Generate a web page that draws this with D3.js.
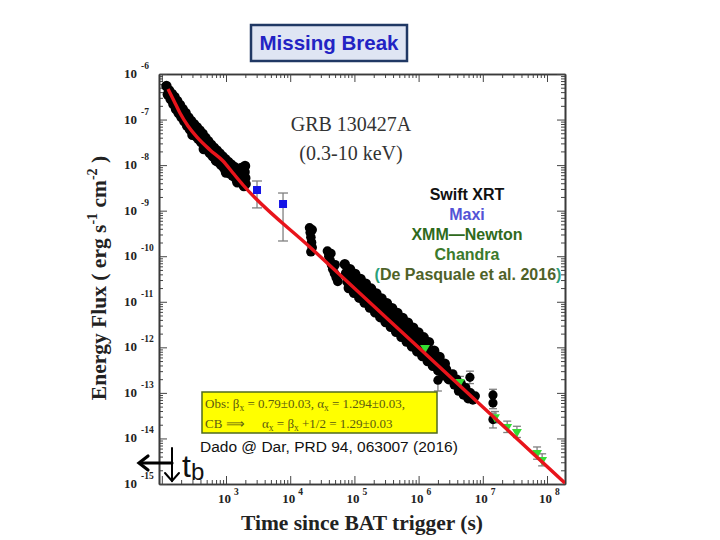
<!DOCTYPE html>
<html><head><meta charset="utf-8">
<script src="https://cdn.jsdelivr.net/npm/d3@7"></script>
<style>body{margin:0;background:#fff} svg{display:block}</style>
</head><body><svg id="c" width="720" height="540"></svg>
<script>
// ---------------- data ----------------
const xTickExps = [3, 4, 5, 6, 7, 8];
const yTickExps = [-6, -7, -8, -9, -10, -11, -12, -13, -14, -15];

// red model curve
const fitT = [125, 155, 192, 256, 353, 564, 898, 1285, 1842, 2.1e4, 1.0e6, 1.0e7, 1.9e8];
const fitF = [4.69e-7, 2.55e-7, 1.39e-7, 7.2e-8, 4.1e-8, 2.15e-8, 1.23e-8, 6.7e-9, 3.66e-9, 1.52e-10, 9.86e-13, 4.9e-14, 1.05e-15];

// Swift XRT (black): early decay
const xrtEarlyT = [118,124,130,137,144,151,158,166,174,183,192,202,212,223,235,247,260,273,287,302,318,335,352,370,390,410,432,455,478,503,530,558,587,618,650,684,720,758,798,840,884,930,980,1030,1085,1140,1200,1265,1330,1400,1475,1550,1630,1720,1810,1900,1950,2000,1980,2020, 300,450,700,1000,1500];
const xrtEarlyF = [5.45e-7,3.55e-7,4.36e-7,2.82e-7,3.64e-7,2.2e-7,3.13e-7,1.7e-7,2.55e-7,1.39e-7,2.09e-7,1.14e-7,1.7e-7,9.3e-8,1.39e-7,7.4e-8,1.11e-7,6.1e-8,9.3e-8,5.15e-8,7.9e-8,4.4e-8,6.8e-8,3.8e-8,5.8e-8,3.2e-8,4.9e-8,2.65e-8,4.0e-8,2.22e-8,3.35e-8,1.85e-8,2.82e-8,1.58e-8,2.42e-8,1.36e-8,2.1e-8,1.18e-8,1.81e-8,1.01e-8,1.55e-8,8.7e-9,1.35e-8,7.6e-9,1.18e-8,6.6e-9,1.03e-8,5.9e-9,9.2e-9,5.3e-9,8.3e-9,4.8e-9,7.5e-9,8.65e-9,4.05e-9,3.48e-9,7.06e-9,5.2e-9,9.6e-9,3.86e-9, 4.6e-8,2.26e-8,1.25e-8,6.9e-9,4.2e-9];

// Swift XRT: two clumps around 2e4 s and 5e4 s
const xrtMidT = [2.0e4,2.05e4,2.1e4,2.15e4,2.2e4,2.1e4,2.2e4, 3.8e4,4.0e4,4.2e4,4.4e4,4.6e4,4.9e4,5.2e4,5.5e4,4.3e4,5.0e4];
const xrtMidF = [4.2e-10,3.3e-10,2.6e-10,2.0e-10,1.55e-10,1.25e-10,3.8e-10, 1.3e-10,1.0e-10,8e-11,6.5e-11,5.2e-11,4.2e-11,3.4e-11,2.8e-11,1.15e-10,6.5e-11];

// Swift XRT: dense late band
const xrtBandT = [7.08e4,7.42e4,7.78e4,8.16e4,8.55e4,8.96e4,9.40e4,9.85e4,1.03e5,1.08e5,1.135e5,1.19e5,1.25e5,1.31e5,1.37e5,1.44e5,1.51e5,1.58e5,1.66e5,1.74e5,1.82e5,1.91e5,2.00e5,2.10e5,2.20e5,2.30e5,2.42e5,2.53e5,2.65e5,2.78e5,2.92e5,3.06e5,3.21e5,3.36e5,3.52e5,3.69e5,3.87e5,4.06e5,4.26e5,4.46e5,4.68e5,4.90e5,5.14e5,5.39e5,5.65e5,5.92e5,6.21e5,6.51e5,6.82e5,7.15e5,7.50e5,7.86e5,8.24e5,8.64e5,9.06e5,9.50e5,9.95e5,1.043e6,1.094e6,1.147e6,1.20e6,1.26e6,1.32e6,1.385e6,1.45e6,1.52e6,1.60e6,1.67e6,1.75e6,1.84e6,1.93e6,2.02e6,2.12e6,2.22e6,2.33e6,2.44e6,2.56e6,2.68e6,2.81e6,2.95e6];
const xrtBandF = [6.67e-11,4.25e-11,2.76e-11,2.01e-11,5.22e-11,3.32e-11,2.16e-11,1.57e-11,4.08e-11,2.59e-11,1.69e-11,1.23e-11,3.19e-11,2.03e-11,1.32e-11,9.6e-12,2.49e-11,1.585e-11,1.03e-11,7.5e-12,1.95e-11,1.24e-11,8.05e-12,5.87e-12,1.52e-11,9.7e-12,6.3e-12,4.59e-12,1.19e-11,7.57e-12,4.92e-12,3.59e-12,9.3e-12,5.92e-12,3.85e-12,2.81e-12,7.27e-12,4.62e-12,3.01e-12,2.19e-12,5.68e-12,3.61e-12,2.35e-12,1.71e-12,4.44e-12,2.82e-12,1.84e-12,1.34e-12,3.47e-12,2.21e-12,1.44e-12,1.05e-12,2.71e-12,1.73e-12,1.12e-12,8.18e-13,2.12e-12,1.35e-12,8.77e-13,6.4e-13,1.66e-12,1.05e-12,6.85e-13,5.0e-13,1.30e-12,8.24e-13,5.36e-13,3.91e-13,8.42e-13,5.87e-13,4.19e-13,3.13e-13,6.14e-13,4.39e-13,3.27e-13,2.44e-13,4.38e-13,3.27e-13,2.56e-13,2.0e-13];

// Swift XRT: end cluster
const xrtEndT = [3.4e6,3.6e6,3.9e6,4.2e6,4.6e6,5.0e6,5.4e6,5.9e6,6.4e6,7.0e6,7.6e6];
const xrtEndF = [2.6e-13,1.5e-13,2.0e-13,1.1e-13,1.6e-13,9e-14,1.3e-13,7.5e-14,1.0e-13,7e-14,8.5e-14];

// isolated Swift XRT points with error bars
const isoT  = [2.0e6, 6.3e6, 1.44e7, 1.44e7, 1.44e7];
const isoF  = [1.9e-13, 2.2e-13, 9.0e-14, 6.0e-14, 2.6e-14];
const isoLo = [1.1e-13, 1.6e-13, 6.5e-14, 4.5e-14, 1.7e-14];
const isoHi = [2.7e-13, 3.0e-13, 1.2e-13, 8.0e-14, 3.6e-14];

// Maxi (blue squares)
const maxiT  = [3040, 7730];
const maxiF  = [2.84e-9, 1.4e-9];
const maxiLo = [1.15e-9, 2.16e-10];
const maxiHi = [4.48e-9, 2.44e-9];

// XMM-Newton / Chandra (green)
const greenT  = [1.26e6, 4.4e6, 1.55e7, 2.4e7, 3.4e7, 7.0e7, 8.4e7];
const greenF  = [9.7e-13, 1.74e-13, 2.95e-14, 1.8e-14, 1.4e-14, 4.8e-15, 3.4e-15];
const greenLo = [7.5e-13, 1.3e-13, 2.2e-14, 1.35e-14, 1.05e-14, 3.5e-15, 2.5e-15];
const greenHi = [1.25e-12, 2.3e-13, 3.9e-14, 2.4e-14, 1.85e-14, 6.5e-15, 4.6e-15];

const legendLines = ["Swift XRT", "Maxi", "XMM\u2014Newton", "Chandra"];
const legendColors = ["#111111", "#5353d6", "#2f6a1c", "#3b7a2c"];

// ---------------- drawing ----------------
const svg = d3.select("#c");
const serif = "'Liberation Serif','Times New Roman',serif";
const sans = "'Liberation Sans',Arial,sans-serif";
const L = 159, R = 565, T = 74, B = 484;
const x = d3.scaleLog().domain([90.4, 1.907e8]).range([L, R]);
const y = d3.scaleLog().domain([1e-15, 1e-6]).range([B, T]);

svg.append("rect").attr("width", 720).attr("height", 540).attr("fill", "#fff");
svg.append("defs").append("clipPath").attr("id", "pc")
  .append("rect").attr("x", L).attr("y", T).attr("width", R - L).attr("height", B - T);

// tick values
const xMaj = [2, ...xTickExps].map(e => Math.pow(10, e));
const xMin = [];
for (let e = 1; e <= 8; e++) for (let m = 2; m <= 9; m++) { const v = m * Math.pow(10, e); if (v > 90.4 && v < 1.907e8) xMin.push(v); }
const yMaj = yTickExps.map(e => Math.pow(10, e));
const yMin = [];
for (let e = -15; e < -6; e++) for (let m = 2; m <= 9; m++) yMin.push(m * Math.pow(10, e));

function styleAxis(g) {
  g.select(".domain").attr("stroke", "#3a3a3a").attr("stroke-width", 1.6);
  g.selectAll(".tick line").attr("stroke", "#444").attr("stroke-width", 1);
}
const axesDef = [
  [d3.axisBottom, x, `translate(0,${B})`, xMaj, xMin],
  [d3.axisTop, x, `translate(0,${T})`, xMaj, xMin],
  [d3.axisLeft, y, `translate(${L},0)`, yMaj, yMin],
  [d3.axisRight, y, `translate(${R},0)`, yMaj, yMin],
];
axesDef.forEach(([fn, sc, tr, maj, min]) => {
  svg.append("g").attr("transform", tr)
    .call(fn(sc).tickValues(min).tickSize(-4).tickSizeOuter(0).tickFormat(""))
    .call(styleAxis);
  svg.append("g").attr("transform", tr)
    .call(fn(sc).tickValues(maj).tickSize(-8).tickSizeOuter(0).tickFormat(""))
    .call(styleAxis);
});

// tick labels
xTickExps.forEach(e => {
  const t = svg.append("text").attr("x", x(Math.pow(10, e)) - 8).attr("y", 503)
    .attr("font-family", serif).attr("font-weight", "bold").attr("font-size", 13).attr("fill", "#222");
  t.append("tspan").text("10");
  t.append("tspan").attr("dx", 3).attr("dy", -8).attr("font-size", 9.5).text(e);
});
yTickExps.forEach(e => {
  const t = svg.append("text").attr("x", 124).attr("y", y(Math.pow(10, e)) + 4)
    .attr("font-family", serif).attr("font-weight", "bold").attr("font-size", 13).attr("fill", "#222");
  t.append("tspan").text("10");
  t.append("tspan").attr("dx", 4).attr("dy", -9).attr("font-size", 9.5).text(e);
});

// axis titles
svg.append("text").attr("x", 362).attr("y", 530).attr("text-anchor", "middle")
  .attr("font-family", serif).attr("font-weight", "bold").attr("font-size", 21.5).attr("fill", "#222")
  .text("Time since BAT trigger (s)");
const yt = svg.append("text").attr("transform", "translate(106,278) rotate(-90)").attr("text-anchor", "middle")
  .attr("font-family", serif).attr("font-weight", "bold").attr("font-size", 21.5).attr("fill", "#222");
yt.append("tspan").text("Energy Flux ( erg s");
yt.append("tspan").attr("dy", -9).attr("font-size", 14).text("-1");
yt.append("tspan").attr("dy", 9).text(" cm");
yt.append("tspan").attr("dy", -9).attr("font-size", 14).text("-2");
yt.append("tspan").attr("dy", 9).text(" )");

// plot texts
svg.append("text").attr("x", 351).attr("y", 131).attr("text-anchor", "middle")
  .attr("font-family", serif).attr("font-size", 20).attr("fill", "#333").text("GRB 130427A");
svg.append("text").attr("x", 351).attr("y", 160).attr("text-anchor", "middle")
  .attr("font-family", serif).attr("font-size", 20).attr("fill", "#333").text("(0.3-10 keV)");

const plot = svg.append("g").attr("clip-path", "url(#pc)");
const eb = plot.append("g").attr("stroke", "#808080").attr("stroke-width", 1.3);

// XRT markers
function dots(ts, fs, r) {
  plot.append("g").selectAll("circle").data(ts).join("circle")
    .attr("cx", d => x(d)).attr("cy", (d, i) => y(fs[i])).attr("r", r).attr("fill", "#000");
}
dots(xrtEarlyT, xrtEarlyF, 5.2);
dots(xrtMidT, xrtMidF, 4.8);
dots(xrtBandT, xrtBandF, 5.2);
dots(xrtEndT, xrtEndF, 4.8);

// iso error bars + markers
isoT.forEach((t, i) => {
  eb.append("line").attr("x1", x(t)).attr("x2", x(t)).attr("y1", y(isoLo[i])).attr("y2", y(isoHi[i]));
  [isoLo[i], isoHi[i]].forEach(v => eb.append("line").attr("x1", x(t) - 4).attr("x2", x(t) + 4).attr("y1", y(v)).attr("y2", y(v)));
});
dots(isoT, isoF, 4.6);

// green error bars + markers
greenT.forEach((t, i) => {
  eb.append("line").attr("x1", x(t)).attr("x2", x(t)).attr("y1", y(greenLo[i])).attr("y2", y(greenHi[i]));
  [greenLo[i], greenHi[i]].forEach(v => eb.append("line").attr("x1", x(t) - 4).attr("x2", x(t) + 4).attr("y1", y(v)).attr("y2", y(v)));
});
plot.append("g").selectAll("path").data(greenT).join("path")
  .attr("transform", (d, i) => `translate(${x(d)},${y(greenF[i])}) rotate(180)`)
  .attr("d", d3.symbol(d3.symbolTriangle, 42)).attr("fill", "#33dd33");

// red model curve
const curve = d3.line().x((d, i) => x(fitT[i])).y((d, i) => y(fitF[i])).curve(d3.curveMonotoneX);
plot.append("path").attr("d", curve(fitT)).attr("fill", "none").attr("stroke", "#e8141b").attr("stroke-width", 3.4);

// Maxi
maxiT.forEach((t, i) => {
  eb.append("line").attr("x1", x(t)).attr("x2", x(t)).attr("y1", y(maxiLo[i])).attr("y2", y(maxiHi[i]));
  [maxiLo[i], maxiHi[i]].forEach(v => eb.append("line").attr("x1", x(t) - 5).attr("x2", x(t) + 5).attr("y1", y(v)).attr("y2", y(v)));
});
plot.append("g").selectAll("rect").data(maxiT).join("rect")
  .attr("x", d => x(d) - 4).attr("y", (d, i) => y(maxiF[i]) - 4).attr("width", 8).attr("height", 8).attr("fill", "#1515e6");

// legend text
legendLines.forEach((s, i) => {
  svg.append("text").attr("x", 467).attr("y", [200, 220, 240, 260][i]).attr("text-anchor", "middle")
    .attr("font-family", sans).attr("font-weight", "bold").attr("font-size", 16)
    .attr("fill", legendColors[i]).text(s);
});
const dp = svg.append("text").attr("x", 468).attr("y", 280).attr("text-anchor", "middle")
  .attr("font-family", sans).attr("font-weight", "bold").attr("font-size", 16).attr("fill", "#4f6228");
dp.append("tspan").attr("fill", "#2aa07a").text("(");
dp.append("tspan").text("De Pasquale et al. 2016");
dp.append("tspan").attr("fill", "#2aa07a").text(")");

// title box
svg.append("rect").attr("x", 251).attr("y", 25).attr("width", 156).attr("height", 36)
  .attr("fill", "#dfe5f3").attr("stroke", "#203864").attr("stroke-width", 2.5);
svg.append("text").attr("x", 329).attr("y", 50).attr("text-anchor", "middle")
  .attr("font-family", sans).attr("font-weight", "bold").attr("font-size", 20.5).attr("fill", "#2323c4")
  .text("Missing Break");

// yellow box
svg.append("rect").attr("x", 202).attr("y", 392).attr("width", 235).attr("height", 41)
  .attr("fill", "#ffff00").attr("stroke", "#4f6b1e").attr("stroke-width", 1.5);
const yb = svg.append("g").attr("font-family", serif).attr("font-size", 13).attr("fill", "#5b5b10");
function seg(t, parts) {
  let low = false;
  parts.forEach(([s, isSub]) => {
    const sp = t.append("tspan").text(s);
    if (isSub && !low) { sp.attr("dy", 3).attr("font-size", 9.5); low = true; }
    else if (isSub) { sp.attr("font-size", 9.5); }
    else if (low) { sp.attr("dy", -3); low = false; }
  });
}
seg(yb.append("text").attr("x", 205).attr("y", 408),
  [["Obs: \u03b2", false], ["x", true], [" = 0.79\u00b10.03,  \u03b1", false], ["x", true], [" = 1.294\u00b10.03,", false]]);
seg(yb.append("text").attr("x", 205).attr("y", 428), [["CB  \u27f9", false]]);
seg(yb.append("text").attr("x", 262).attr("y", 428),
  [["\u03b1", false], ["x", true], [" = \u03b2", false], ["x", true], [" +1/2 = 1.29\u00b10.03", false]]);

svg.append("text").attr("x", 200).attr("y", 452).attr("font-family", sans).attr("font-size", 15.5).attr("fill", "#111")
  .text("Dado @ Dar, PRD 94, 063007 (2016)");

// t_b marker
const mk = svg.append("g").attr("stroke", "#000").attr("fill", "none").attr("stroke-linecap", "round");
mk.append("line").attr("x1", 140).attr("x2", 172).attr("y1", 463).attr("y2", 463).attr("stroke-width", 3.2);
mk.append("polyline").attr("points", "148,456 139,463 148,470").attr("stroke-width", 3.2);
mk.append("line").attr("x1", 172).attr("x2", 172).attr("y1", 448).attr("y2", 481).attr("stroke-width", 2);
mk.append("polyline").attr("points", "165,473 172,481 179,473").attr("stroke-width", 2);
const tb = svg.append("text").attr("x", 182).attr("y", 477).attr("font-family", sans).attr("font-size", 32).attr("fill", "#111");
tb.append("tspan").text("t");
tb.append("tspan").attr("dy", 3).attr("font-size", 24).text("b");
</script></body></html>
